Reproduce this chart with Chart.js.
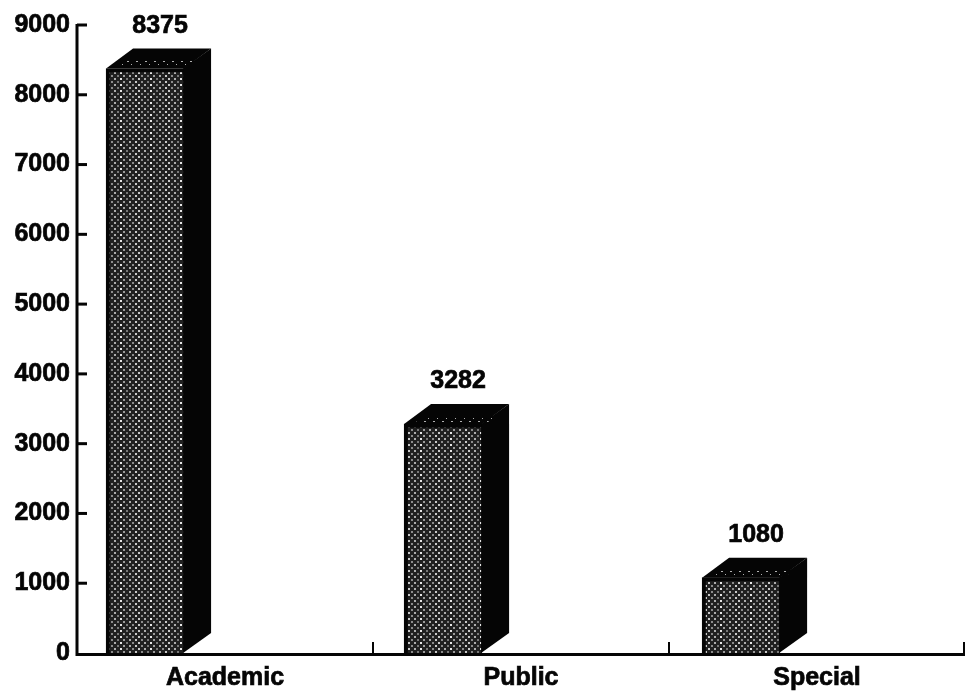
<!DOCTYPE html>
<html><head><meta charset="utf-8">
<style>html,body{margin:0;padding:0;background:#fff}canvas{display:block}</style>
<script src="https://cdn.jsdelivr.net/npm/chart.js@4"></script>
</head><body>
<div style="width:965px;height:697px;position:relative"><canvas id="c" width="965" height="697"></canvas></div>
<script>
const categories = ["Academic", "Public", "Special"];
const values = [8375, 3282, 1080];
const axisMin = 0, axisMax = 9000, axisStep = 1000;

const FAMILY = '"Liberation Sans", Arial, sans-serif';
const FONT = 'bold 25px ' + FAMILY;
const INK = '#050505';

function stipple(){
  // mottled halftone tile: staggered light dots whose brightness drifts across the tile
  const n = 30, t = document.createElement('canvas'); t.width = n; t.height = n;
  const g = t.getContext('2d');
  g.fillStyle = '#202020'; g.fillRect(0,0,n,n);
  const tones = ['#e6e6e6','#9c9c9c','#c8c8c8','#777777','#f0f0f0','#adadad','#8c8c8c'];
  let k = 0;
  for (let y = 0; y < n; y += 3) {
    for (let x = (y % 6 ? 3 : 0); x < n; x += 6) {
      g.fillStyle = tones[k % tones.length]; k += 3 + (y % 2);
      g.fillRect(x, y, 2, 2);
    }
  }
  return g.createPattern(t,'repeat');
}
function sparse(){
  const t = document.createElement('canvas'); t.width = 9; t.height = 6;
  const g = t.getContext('2d');
  g.fillStyle = INK; g.fillRect(0,0,9,6);
  g.fillStyle = '#b0b0b0';
  g.fillRect(1,1,2,1); g.fillRect(5,4,1,1);
  return g.createPattern(t,'repeat');
}

const solid3d = {
  id:'solid3d',
  afterDatasetsUpdate(chart){
    const x = chart.scales.x;
    const step = x.getPixelForValue(1) - x.getPixelForValue(0);
    chart.getDatasetMeta(0).data.forEach((el,i) => { el.x += step * (-0.27 + i * 0.0068); });
  },
  afterDatasetsDraw(chart){
    const ctx = chart.ctx, dx = 27, dy = 20;
    const y0 = chart.scales.y.getPixelForValue(0);
    ctx.save();
    chart.getDatasetMeta(0).data.forEach((el,i) => {
      const l = el.x - el.width/2, r = el.x + el.width/2, t = el.y;
      ctx.fillStyle = INK;
      ctx.beginPath();
      ctx.moveTo(r-1,t); ctx.lineTo(r+dx,t-dy); ctx.lineTo(r+dx,y0-dy); ctx.lineTo(r-1,y0); ctx.closePath(); ctx.fill();
      ctx.beginPath();
      ctx.moveTo(l,t); ctx.lineTo(l+dx,t-dy); ctx.lineTo(r+dx,t-dy); ctx.lineTo(r,t); ctx.closePath(); ctx.fill();
      ctx.fillStyle = sparse();
      ctx.beginPath();
      ctx.moveTo(l+12,t-2); ctx.lineTo(l+20,t-8); ctx.lineTo(r+14,t-8); ctx.lineTo(r+6,t-2); ctx.closePath(); ctx.fill();
      ctx.fillStyle = INK; ctx.strokeStyle = INK; ctx.lineWidth = 0.7;
      ctx.font = FONT; ctx.textAlign = 'center'; ctx.textBaseline = 'middle';
      ctx.fillText(String(values[i]), el.x + 15, t - 43);
      ctx.strokeText(String(values[i]), el.x + 15, t - 43);
    });
    ctx.restore();
  },
  afterDraw(chart){
    const ctx = chart.ctx, a = chart.chartArea, xs = chart.scales.x, ys = chart.scales.y;
    ctx.save();
    ctx.strokeStyle = INK; ctx.lineCap = 'butt';
    ctx.lineWidth = 3;
    ctx.beginPath();
    ctx.moveTo(a.left, a.top-1); ctx.lineTo(a.left, a.bottom+1.5); ctx.lineTo(a.right, a.bottom+1.5);
    ctx.stroke();
    ys.ticks.forEach(t => {
      if (t.value === axisMin) return;
      const y = ys.getPixelForValue(t.value);
      ctx.beginPath(); ctx.moveTo(a.left, y); ctx.lineTo(a.left+10, y); ctx.stroke();
    });
    ctx.lineWidth = 2;
    const step = xs.getPixelForValue(1) - xs.getPixelForValue(0);
    categories.forEach((c,i) => {
      const x = xs.getPixelForValue(i) + step/2 - (i === categories.length-1 ? 1 : 0);
      ctx.beginPath(); ctx.moveTo(x, a.bottom); ctx.lineTo(x, a.bottom-11); ctx.stroke();
    });
    ctx.restore();
  }
};

new Chart(document.getElementById('c'), {
  type:'bar',
  data:{ labels:categories, datasets:[{ data:values, backgroundColor:stipple(), borderColor:INK,
    borderWidth:{left:4,top:4,right:0,bottom:0}, borderSkipped:false, barThickness:78 }]},
  plugins:[solid3d],
  options:{
    responsive:false, animation:false,
    layout:{padding:{top:25,right:0,left:0,bottom:0}},
    plugins:{legend:{display:false},tooltip:{enabled:false},title:{display:false}},
    scales:{
      x:{ grid:{display:false,drawTicks:false}, border:{display:false},
          afterFit(s){s.height = 44;},
          ticks:{font:{family:FAMILY,size:25,weight:'bold'},color:INK,padding:10,maxRotation:0,textStrokeColor:INK,textStrokeWidth:0.7} },
      y:{ min:axisMin,max:axisMax, grid:{display:false,drawTicks:false}, border:{display:false},
          afterFit(s){s.width = 77;},
          ticks:{stepSize:axisStep,callback:v=>String(v),font:{family:FAMILY,size:25,weight:'bold'},color:INK,padding:7,textStrokeColor:INK,textStrokeWidth:0.7} }
    }
  }
});
</script>
</body></html>
